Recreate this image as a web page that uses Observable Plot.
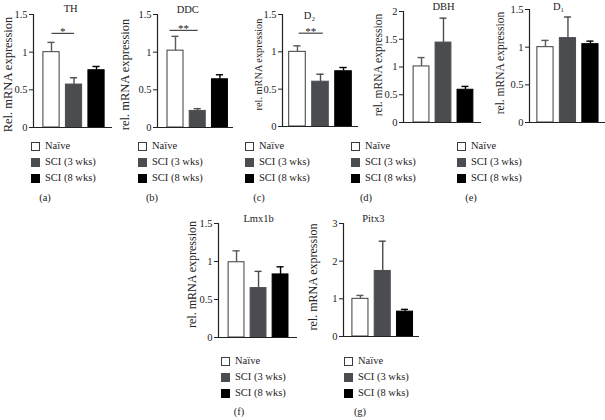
<!DOCTYPE html>
<html><head><meta charset="utf-8">
<script src="https://cdn.jsdelivr.net/npm/d3@7"></script>
<script src="https://cdn.jsdelivr.net/npm/@observablehq/plot@0.6"></script>
<style>
body{margin:0;background:#fff;}
#fig{position:relative;width:605px;height:420px;overflow:hidden;font-family:"Liberation Serif","Times New Roman",serif;color:#222;}
.panel{position:absolute;}
.panel text{font-family:"Liberation Serif","Times New Roman",serif;}
.legend{position:absolute;font-size:10.5px;line-height:16px;}
.legend div{display:flex;align-items:center;white-space:nowrap;height:16px;}
.sw{display:inline-block;width:9px;height:9px;margin-right:5px;box-sizing:border-box;}
.letter{position:absolute;font-size:10.5px;transform:translateX(-50%);}
</style></head><body><div id="fig"></div>
<script>
// ---- data ----
const groups = ["Naïve", "SCI (3 wks)", "SCI (8 wks)"];
const titles = ["TH", "DDC", "D₂", "DBH", "D₁", "Lmx1b", "Pitx3"];
const yLabels = ["Rel. mRNA expression", "rel. mRNA expression", "rel. mRNA expression",
  "rel. mRNA expression", "rel. mRNA expression", "rel. mRNA expression", "rel. mRNA expression"];
const letters = ["(a)", "(b)", "(c)", "(d)", "(e)", "(f)", "(g)"];
const TH = [1.00, 0.57, 0.76],   TH_err = [0.13, 0.09, 0.05];
const DDC = [1.02, 0.22, 0.64],  DDC_err = [0.19, 0.03, 0.06];
const D2 = [1.00, 0.60, 0.74],   D2_err = [0.08, 0.10, 0.05];
const DBH = [1.01, 1.44, 0.59],  DBH_err = [0.16, 0.44, 0.06];
const D1 = [1.00, 1.12, 1.04],   D1_err = [0.09, 0.28, 0.04];
const LMX = [0.99, 0.65, 0.83],  LMX_err = [0.15, 0.22, 0.10];
const PITX = [1.00, 1.74, 0.66], PITX_err = [0.09, 0.79, 0.06];
const ticks15 = [0, 0.5, 1, 1.5], ticks2 = [0, 0.5, 1, 1.5, 2], ticks3 = [0, 1, 2, 3];
const sigTH = {from: 0, to: 1, y: 1.25, label: "*"};
const sigDDC = {from: -0.27, to: 1, y: 1.29, label: "**"};
const sigD2 = {from: 0.05, to: 1.1, y: 1.25, label: "**"};

const series = [
  {mean: TH, err: TH_err, yMax: 1.5, ticks: ticks15, sig: sigTH},
  {mean: DDC, err: DDC_err, yMax: 1.5, ticks: ticks15, sig: sigDDC},
  {mean: D2, err: D2_err, yMax: 1.5, ticks: ticks15, sig: sigD2},
  {mean: DBH, err: DBH_err, yMax: 2, ticks: ticks2, sig: null},
  {mean: D1, err: D1_err, yMax: 1.5, ticks: ticks15, sig: null},
  {mean: LMX, err: LMX_err, yMax: 1.5, ticks: ticks15, sig: null},
  {mean: PITX, err: PITX_err, yMax: 3, ticks: ticks3, sig: null}
];

// ---- layout (pixels) ----
const layout = [
  {axis: 33, end: 112, top: 14, bottom: 127, dom: [-0.8, 2.71], tx: 0.85, tdy: -6, lf: 12.5, ldx: 26, ldy: 3.5, lgx: 31, lgy: 138, ltx: 45, lty: 192},
  {axis: 157, end: 233, top: 14, bottom: 127, dom: [-0.81, 2.61], tx: 0.55, tdy: -5, lf: 12.5, ldx: 33, ldy: 3.5, lgx: 138, lgy: 138, ltx: 152, lty: 192},
  {axis: 282, end: 358, top: 14, bottom: 126, dom: [-0.65, 2.65], tx: 0.52, tdy: 1, lf: 10.3, ldx: 24, ldy: -6, lgx: 245, lgy: 138, ltx: 259, lty: 192},
  {axis: 403, end: 481, top: 11, bottom: 122, dom: [-0.82, 2.73], tx: 1, tdy: -5, lf: 11.5, ldx: 25, ldy: -2, lgx: 351, lgy: 138, ltx: 366, lty: 192},
  {axis: 529, end: 605, top: 9, bottom: 122, dom: [-0.71, 2.67], tx: 0.58, tdy: -3, lf: 11.5, ldx: 29, ldy: -3, lgx: 457, lgy: 138, ltx: 471, lty: 192},
  {axis: 218, end: 297, top: 223, bottom: 337, dom: [-0.82, 2.77], tx: 1, tdy: -5, lf: 12, ldx: 26, ldy: -6, lgx: 221, lgy: 353, ltx: 239, lty: 406},
  {axis: 343, end: 419, top: 223, bottom: 336, dom: [-0.76, 2.65], tx: 0.58, tdy: -5, lf: 12, ldx: 30, ldy: -3, lgx: 344, lgy: 353, ltx: 360, lty: 406}
];

const fills = ["#ffffff", "#4a4c50", "#000000"];
const strokes = ["#3c3c3c", "#4a4c50", "#000000"];
const whisk = ["#5a5a5a", "#4a4c50", "#000000"];
const ink = "#222222";
const font = "Liberation Serif";
const fig = document.getElementById("fig");

series.forEach((s, k) => {
  const g = layout[k];
  const data = groups.map((name, i) => ({name, i, v: s.mean[i], e: s.mean[i] + s.err[i]}));
  const svgLeft = Math.max(0, g.axis - 45);
  const svgTop = Math.max(0, g.top - 18);
  const mr = g.end >= 605 ? 0 : 3;
  const width = g.end - svgLeft + mr;
  const height = g.bottom - svgTop + 4;
  const hw = 0.36, cw = 0.16;
  const titleRow = [{t: titles[k], x: g.tx, y: s.yMax}];
  const marks = [
    Plot.rectY(data, {x1: d => d.i - hw, x2: d => d.i + hw, y1: 0, y2: "v",
      fill: d => fills[d.i], stroke: d => strokes[d.i], strokeWidth: 1}),
    Plot.ruleX(data, {x: "i", y1: "v", y2: "e", stroke: d => whisk[d.i], strokeWidth: 1.4}),
    Plot.ruleY(data, {y: "e", x1: d => d.i - cw, x2: d => d.i + cw, stroke: d => whisk[d.i], strokeWidth: 1.4}),
    Plot.ruleY([0], {stroke: ink, strokeWidth: 1.2}),
    Plot.ruleX([g.dom[0]], {stroke: ink, strokeWidth: 1.2}),
    Plot.axisY({ticks: s.ticks, tickSize: 4, tickPadding: 2, fontSize: 10.5, fontFamily: font, label: null,
      tickFormat: d => String(d), stroke: ink, fill: ink}),
    Plot.text([yLabels[k]], {text: d => d, frameAnchor: "left", textAnchor: "middle", lineAnchor: "middle",
      rotate: -90, dx: -g.ldx, dy: g.ldy, fontSize: g.lf, fontFamily: font, fill: ink}),
    Plot.text(titleRow, {text: "t", x: "x", y: "y", dy: g.tdy, textAnchor: "middle", lineAnchor: "middle",
      fontSize: 10.5, fontFamily: font, fill: ink})
  ];
  if (s.sig) {
    marks.push(Plot.link([s.sig], {x1: "from", x2: "to", y1: "y", y2: "y", stroke: ink, strokeWidth: 1}));
    marks.push(Plot.text([s.sig], {x: d => (d.from + d.to) / 2, y: "y", text: "label", lineAnchor: "bottom",
      dy: 2, fontSize: 11, fontFamily: font, fill: ink}));
  }
  const svg = Plot.plot({
    width, height,
    marginLeft: g.axis - svgLeft, marginRight: mr,
    marginTop: g.top - svgTop, marginBottom: height - (g.bottom - svgTop),
    x: {type: "linear", domain: g.dom, axis: null},
    y: {domain: [0, s.yMax], axis: null},
    color: {type: "identity"},
    style: "font-family:'Liberation Serif',serif;background:transparent;overflow:visible;",
    marks
  });
  svg.classList.add("panel");
  svg.style.left = svgLeft + "px";
  svg.style.top = svgTop + "px";
  fig.appendChild(svg);

  const lg = document.createElement("div");
  lg.className = "legend";
  lg.style.left = g.lgx + "px";
  lg.style.top = g.lgy + "px";
  groups.forEach((name, i) => {
    const row = document.createElement("div");
    const sw = document.createElement("span");
    sw.className = "sw";
    sw.style.background = fills[i];
    sw.style.border = "1px solid " + strokes[i];
    row.appendChild(sw);
    row.appendChild(document.createTextNode(name));
    lg.appendChild(row);
  });
  fig.appendChild(lg);

  const lt = document.createElement("div");
  lt.className = "letter";
  lt.style.left = g.ltx + "px";
  lt.style.top = g.lty + "px";
  lt.textContent = letters[k];
  fig.appendChild(lt);
});
</script></body></html>
